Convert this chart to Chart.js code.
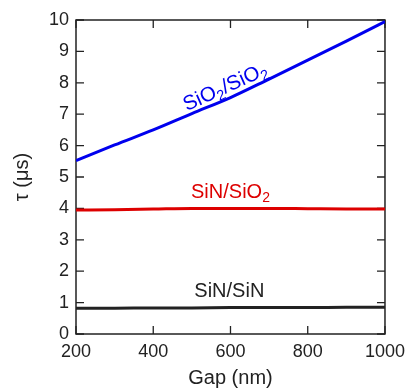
<!DOCTYPE html>
<html>
<head>
<meta charset="utf-8">
<script src="https://cdn.jsdelivr.net/npm/chart.js@4"></script>
<style>
  html, body { margin: 0; padding: 0; background: #fff; }
  #wrap { width: 412px; height: 390px; }
</style>
</head>
<body>
<div id="wrap"><canvas id="c" width="412" height="390"></canvas></div>
<script>
// data
const gapNm = [200, 300, 400, 500, 600, 700, 800, 900, 1000];
const sio2Sio2 = [5.52, 6.02, 6.5, 7.02, 7.53, 8.12, 8.72, 9.33, 9.95];
const sinSio2 = [3.95, 3.96, 3.98, 4.0, 4.0, 4.0, 3.99, 3.98, 3.98];
const sinSin = [0.82, 0.82, 0.83, 0.83, 0.84, 0.84, 0.84, 0.85, 0.85];
const xTicks = [200, 400, 600, 800, 1000];
const yTicks = [0, 1, 2, 3, 4, 5, 6, 7, 8, 9, 10];

const FONT = "'Liberation Sans', Arial, Helvetica, sans-serif";
const INK = "#222";

const pts = (ys) => gapNm.map((x, i) => ({ x: x, y: ys[i] }));

// text with subscripts, centred on (x, y)
const drawRich = (ctx, parts, x, y, size, color, angle) => {
  ctx.save();
  ctx.translate(x, y);
  ctx.rotate(angle || 0);
  ctx.fillStyle = color;
  ctx.textBaseline = "alphabetic";
  ctx.textAlign = "left";
  let w = 0;
  parts.forEach((p) => {
    ctx.font = (p.sub ? size * 0.7 : size) + "px " + FONT;
    w += ctx.measureText(p.t).width;
  });
  let cx = -w / 2;
  const base = size * 0.36;
  parts.forEach((p) => {
    ctx.font = (p.sub ? size * 0.7 : size) + "px " + FONT;
    ctx.fillText(p.t, cx, p.sub ? base + size * 0.2 : base);
    cx += ctx.measureText(p.t).width;
  });
  ctx.restore();
};

const framePlugin = {
  id: "frame",
  beforeDatasetsDraw(chart) {
    const { ctx, chartArea: a, scales } = chart;
    ctx.save();
    ctx.strokeStyle = INK;
    ctx.lineWidth = 1.5;
    ctx.strokeRect(a.left, a.top, a.right - a.left, a.bottom - a.top);
    ctx.lineWidth = 1.3;
    ctx.beginPath();
    yTicks.forEach((v) => {
      const py = scales.y.getPixelForValue(v);
      ctx.moveTo(a.left, py); ctx.lineTo(a.left + 8, py);
      ctx.moveTo(a.right, py); ctx.lineTo(a.right - 8, py);
    });
    xTicks.forEach((v) => {
      const px = scales.x.getPixelForValue(v);
      ctx.moveTo(px, a.bottom); ctx.lineTo(px, a.bottom - 8);
      ctx.moveTo(px, a.top); ctx.lineTo(px, a.top + 8);
    });
    ctx.stroke();
    ctx.restore();
  },
  afterDatasetsDraw(chart) {
    const { ctx, scales } = chart;
    const X = (v) => scales.x.getPixelForValue(v);
    const Y = (v) => scales.y.getPixelForValue(v);
    drawRich(ctx, [{ t: "SiO" }, { t: "2", sub: true }, { t: "/SiO" }, { t: "2", sub: true }],
      X(585), Y(7.9), 20.5, "#0000ee", -24.5 * Math.PI / 180);
    drawRich(ctx, [{ t: "SiN/SiO" }, { t: "2", sub: true }], X(600), Y(4.57), 20, "#dd0000", 0);
    drawRich(ctx, [{ t: "SiN/SiN" }], X(597), Y(1.41), 20, INK, 0);
  }
};

const line = (label, ys, color) => ({
  label: label,
  data: pts(ys),
  borderColor: color,
  borderWidth: 3,
  pointRadius: 0,
  fill: false,
  cubicInterpolationMode: "monotone"
});

new Chart(document.getElementById("c").getContext("2d"), {
  type: "line",
  data: {
    datasets: [
      line("SiO2/SiO2", sio2Sio2, "#0000ee"),
      line("SiN/SiO2", sinSio2, "#dd0000"),
      line("SiN/SiN", sinSin, INK)
    ]
  },
  options: {
    responsive: false,
    animation: false,
    devicePixelRatio: 1,
    layout: { padding: { left: 0, right: 22, top: 20, bottom: 0 } },
    plugins: { legend: { display: false }, tooltip: { enabled: false } },
    scales: {
      x: {
        type: "linear",
        min: 200,
        max: 1000,
        afterBuildTicks: (s) => { s.ticks = xTicks.map((v) => ({ value: v })); },
        afterFit: (s) => { s.height = 56; },
        grid: { display: false, drawTicks: false },
        border: { display: false },
        ticks: { color: INK, padding: 7, font: { family: FONT, size: 18 },
                 callback: (v) => String(v) },
        title: { display: true, text: "Gap (nm)", color: INK, padding: { top: 0, bottom: 0 },
                 font: { family: FONT, size: 20 } }
      },
      y: {
        min: 0,
        max: 10,
        afterBuildTicks: (s) => { s.ticks = yTicks.map((v) => ({ value: v })); },
        afterFit: (s) => { s.width = 76; },
        grid: { display: false, drawTicks: false },
        border: { display: false },
        ticks: { color: INK, padding: 7, font: { family: FONT, size: 18 },
                 callback: (v) => String(v) },
        title: { display: true, text: "τ (μs)", color: INK, padding: { top: 10, bottom: 0 },
                 font: { family: FONT, size: 20 } }
      }
    }
  },
  plugins: [framePlugin]
});
</script>
</body>
</html>
